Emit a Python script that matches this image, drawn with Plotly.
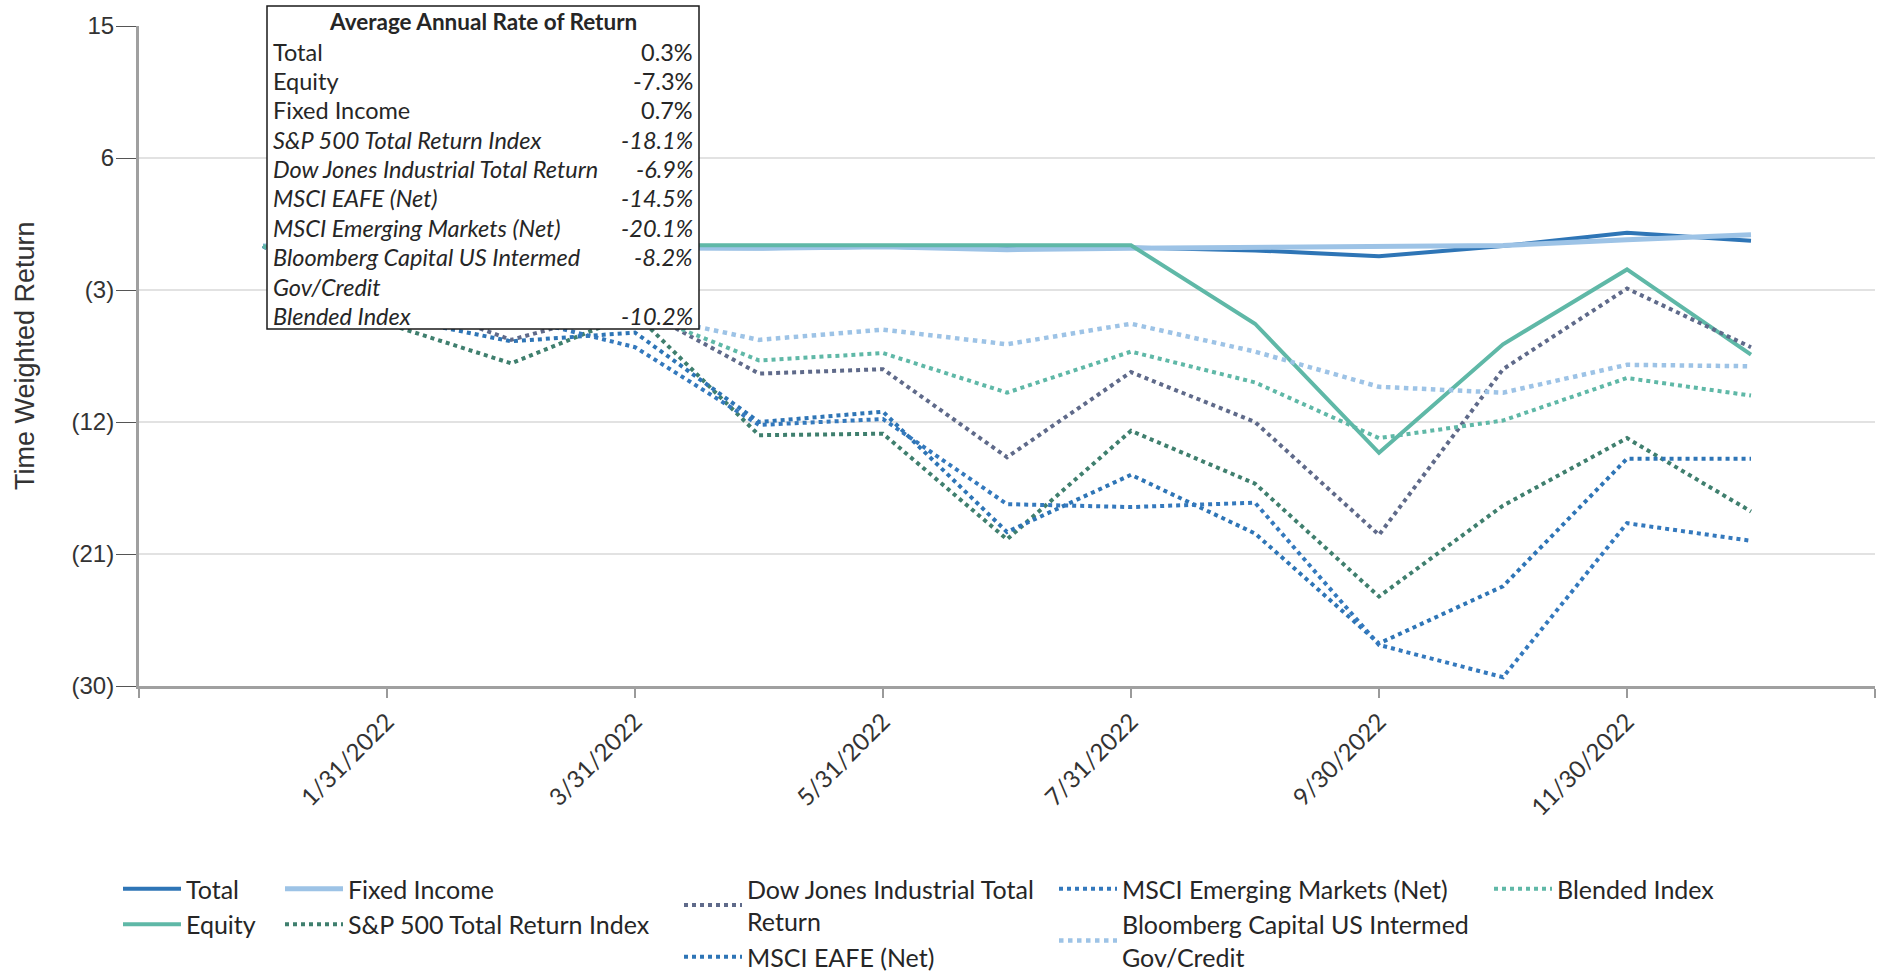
import plotly.graph_objects as go

# ---------------- data ----------------
dates = ["12/31/2021", "1/31/2022", "2/28/2022", "3/31/2022", "4/30/2022", "5/31/2022",
         "6/30/2022", "7/31/2022", "8/31/2022", "9/30/2022", "10/31/2022", "11/30/2022",
         "12/31/2022"]
axis_categories = ["11/30/2021"] + dates + ["1/31/2023"]
tick_dates = ["11/30/2021", "1/31/2022", "3/31/2022", "5/31/2022", "7/31/2022",
              "9/30/2022", "11/30/2022", "1/31/2023"]
tick_labels = ["", "1/31/2022", "3/31/2022", "5/31/2022", "7/31/2022",
               "9/30/2022", "11/30/2022", ""]

total = [0.0, 0.0, -0.1, -0.1, -0.15, -0.05, -0.2, -0.1, -0.3, -0.7, 0.0, 0.9, 0.35]
fixed_income = [0.0, 0.0, -0.1, -0.1, -0.15, -0.05, -0.25, -0.15, -0.1, -0.08, 0.03, 0.42, 0.76]
equity = [0.0, 0.05, 0.05, 0.05, 0.05, 0.05, 0.05, 0.05, -5.3, -14.1, -6.7, -1.6, -7.4]
sp500 = [0.0, -5.3, -8.0, -4.6, -12.9, -12.8, -20.0, -12.6, -16.2, -23.9, -17.7, -13.1, -18.1]
dow = [0.0, -3.3, -6.4, -4.1, -8.7, -8.4, -14.4, -8.6, -12.0, -19.7, -8.4, -2.9, -6.9]
eafe = [0.0, -4.8, -6.5, -5.9, -12.0, -11.3, -19.5, -15.6, -19.6, -27.1, -23.2, -14.5, -14.5]
em = [0.0, -1.9, -4.8, -6.9, -12.2, -11.8, -17.6, -17.8, -17.5, -27.2, -29.4, -18.9, -20.1]
bloomberg = [0.0, -1.4, -2.6, -4.6, -6.4, -5.7, -6.7, -5.3, -7.2, -9.6, -10.0, -8.1, -8.2]
blended = [0.0, -3.0, -4.6, -4.4, -7.8, -7.3, -10.0, -7.2, -9.3, -13.1, -11.9, -9.0, -10.2]

y_ticks = [15, 6, -3, -12, -21, -30]
y_tick_labels = ["15", "6", "(3)", "(12)", "(21)", "(30)"]

table_title = "Average Annual Rate of Return"
table_labels = ["Total", "Equity", "Fixed Income", "S&P 500 Total Return Index",
                "Dow Jones Industrial Total Return", "MSCI EAFE (Net)",
                "MSCI Emerging Markets (Net)", "Bloomberg Capital US Intermed<br>Gov/Credit",
                "Blended Index"]
table_values = [0.3, -7.3, 0.7, -18.1, -6.9, -14.5, -20.1, -8.2, -10.2]
table_italic = [False, False, False, True, True, True, True, True, True]

# ---------------- layout geometry (pixels) ----------------
W, H = 1883, 971
L, R, T, B = 139, 1875, 26, 686


def px(x):
    return (x - L) / (R - L)


def py(y):
    return (B - y) / (B - T)


C_DARK = "#2e75b6"
C_LIGHT = "#9dc3e6"
C_TEAL = "#5fb8a7"
C_GREEN = "#3f7f6e"
C_SLATE = "#5f6a8a"

series = [
    # name, values, color, width, dash, legend
    ("Total", total, C_DARK, 4, "solid", "legend"),
    ("Fixed Income", fixed_income, C_LIGHT, 5, "solid", "legend2"),
    ("Equity", equity, C_TEAL, 4, "solid", "legend"),
    ("S&P 500 Total Return Index", sp500, C_GREEN, 4, "dot", "legend2"),
    ("Dow Jones Industrial Total<br>Return", dow, C_SLATE, 4, "dot", "legend3"),
    ("MSCI EAFE (Net)", eafe, C_DARK, 4, "dot", "legend3"),
    ("MSCI Emerging Markets (Net)", em, "#3479bd", 4, "dot", "legend4"),
    ("Bloomberg Capital US Intermed<br>Gov/Credit", bloomberg, C_LIGHT, 4.5, "dot", "legend4"),
    ("Blended Index", blended, C_TEAL, 4, "dot", "legend5"),
]

fig = go.Figure()
for name, vals, color, width, dash, leg in series:
    fig.add_trace(go.Scatter(
        x=dates, y=vals, mode="lines", name=name,
        line=dict(color=color, width=width, dash=dash),
        legend=leg, hoverinfo="skip",
    ))

legend_font = dict(family="Lato", size=25, color="#262626")


def leg(xpix, ypix):
    return dict(x=px(xpix), y=1 - ypix / H, xref="paper", yref="container",
                xanchor="left", yanchor="top",
                orientation="v", font=legend_font, bgcolor="rgba(0,0,0,0)",
                itemwidth=58, tracegroupgap=0, traceorder="normal")


fig.update_layout(
    width=W, height=H,
    margin=dict(l=L, r=W - R, t=T, b=H - B, pad=0, autoexpand=False),
    paper_bgcolor="white", plot_bgcolor="white",
    showlegend=True,
    legend=leg(118, 866),
    legend2=leg(280, 866),
    legend3=leg(679, 866),
    legend4=leg(1054, 866),
    legend5=leg(1489, 866),
    xaxis=dict(
        type="category", categoryorder="array", categoryarray=axis_categories,
        range=[0, len(axis_categories) - 1], automargin=False,
        tickmode="array", tickvals=tick_dates, ticktext=tick_labels,
        tickangle=-45, ticks="outside", ticklen=9, tickwidth=2, tickcolor="#9a9a9a",
        showline=True, linecolor="#a0a0a0", linewidth=3, showgrid=False, zeroline=False,
        tickfont=dict(family="Lato", size=24, color="#333333"),
    ),
    yaxis=dict(
        range=[-30, 15], tickmode="array", tickvals=y_ticks, ticktext=y_tick_labels,
        automargin=False, ticklabelstandoff=-3,
        ticks="outside", ticklen=20, tickwidth=1, tickcolor="#555555",
        showline=True, linecolor="#a0a0a0", linewidth=3,
        showgrid=True, gridcolor="#e2e2e2", gridwidth=2, zeroline=False,
        tickfont=dict(family="Liberation Sans, Arial", size=24, color="#333333"),
    ),
)

# y-axis title
fig.add_annotation(
    text="Time Weighted Return", textangle=-90, xref="paper", yref="paper",
    x=px(25), y=py(356), xanchor="center", yanchor="middle", showarrow=False,
    font=dict(family="Liberation Sans, Arial", size=27, color="#333333"),
)

# return table box
fig.add_shape(type="rect", xref="paper", yref="paper",
              x0=px(267), x1=px(699), y0=py(6), y1=py(329),
              line=dict(color="#1a1a1a", width=1.5), fillcolor="white", layer="above")

title_font = dict(family="Lato", size=22.5, color="#262626")
table_font = dict(family="Lato", size=23.5, color="#262626")
fig.add_annotation(text="<b>" + table_title + "</b>", xref="paper", yref="paper",
                   x=px(483), y=py(21.5), xanchor="center", yanchor="middle",
                   showarrow=False, font=title_font)

row = 0
row_y0, row_step = 51.7, 29.35
for label, val, ital in zip(table_labels, table_values, table_italic):
    lines = label.split("<br>")
    for j, ln in enumerate(lines):
        yy = row_y0 + row * row_step
        txt = "<i>" + ln + "</i>" if ital else ln
        fig.add_annotation(text=txt, xref="paper", yref="paper", x=px(271), y=py(yy),
                           xanchor="left", yanchor="middle", showarrow=False, font=table_font)
        if j == 0:
            vtxt = f"{val:.1f}%"
            vtxt = "<i>" + vtxt + "</i>" if ital else vtxt
            fig.add_annotation(text=vtxt, xref="paper", yref="paper", x=px(695), y=py(yy),
                               xanchor="right", yanchor="middle", showarrow=False,
                               font=table_font)
        row += 1

fig.write_html("out.html", config={"displayModeBar": False},
               post_script="document.body.style.margin='0';")
